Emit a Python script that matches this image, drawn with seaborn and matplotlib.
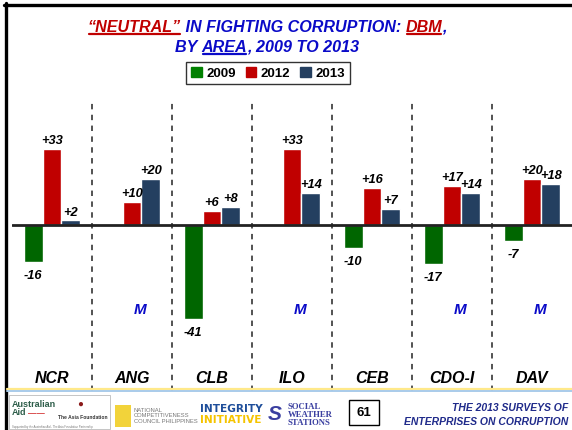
import matplotlib
matplotlib.use("Agg")
import matplotlib.pyplot as plt
from matplotlib.lines import Line2D
from matplotlib.patches import Rectangle
import numpy as np
import pandas as pd
import seaborn as sns

# data
areas = ["NCR", "ANG", "CLB", "ILO", "CEB", "CDO-I", "DAV"]
years = ["2009", "2012", "2013"]
v2009 = [-16, np.nan, -41, np.nan, -10, -17, -7]
v2012 = [33, 10, 6, 33, 16, 17, 20]
v2013 = [2, 20, 8, 14, 7, 14, 18]
m_areas = ["ANG", "ILO", "CDO-I", "DAV"]

colors = {"2009": "#006600", "2012": "#C00000", "2013": "#243F60"}
legend_colors = {"2009": "#008000", "2012": "#C00000", "2013": "#243F60"}
BLUE = "#0A0AC8"
RED = "#C00000"

df = pd.DataFrame({
    "area": areas * 3,
    "year": [y for y in years for _ in areas],
    "value": v2009 + v2012 + v2013,
})

sns.set_style("white")
plt.rcParams["font.family"] = ["Liberation Sans", "DejaVu Sans"]
plt.rcParams["text.color"] = "black"

W, H = 572, 431
fig = plt.figure(figsize=(W / 100, H / 100), dpi=100)
ax = fig.add_axes([12 / W, 1 - 392 / H, 1 - 12 / W, (392 - 95) / H])

sns.barplot(data=df, x="area", y="value", hue="year", order=areas,
            hue_order=years, palette=colors, width=0.7, saturation=1,
            legend=False, ax=ax, errorbar=None)

ax.set_ylim(-72.2, 57)
ax.set_xlim(-0.5, len(areas) - 0.5)
ax.axhline(0, color="#222222", lw=2, zorder=3)
for k in range(len(areas) - 1):
    ax.axvline(k + 0.5, ymin=0, ymax=0.97, color="#444444", lw=1.3,
               ls=(0, (3, 3)), zorder=1)

# value labels (taken from the drawn bars)
for cont in ax.containers:
    for bar in cont:
        v = bar.get_height()
        if np.isnan(v):
            continue
        x = bar.get_x() + bar.get_width() / 2
        if v >= 0:
            ax.annotate(f"+{int(round(v))}", (x, v), xytext=(0, 2),
                        textcoords="offset points", ha="center", va="bottom",
                        fontsize=9.3, fontweight="bold", fontstyle="italic",
                        color="black")
        else:
            ax.annotate(f"{int(round(v))}", (x, v), xytext=(0, -5),
                        textcoords="offset points", ha="center", va="top",
                        fontsize=9.3, fontweight="bold", fontstyle="italic",
                        color="black")

for a in m_areas:
    ax.text(areas.index(a) + 0.1, -36.5, "M", color=BLUE, fontsize=11,
            fontweight="bold", fontstyle="italic", ha="center", va="center")

ax.set_xlabel("")
ax.set_ylabel("")
ax.set_yticks([])
ax.set_xticks(range(len(areas)))
ax.set_xticklabels(areas)
for lab in ax.get_xticklabels():
    lab.set_fontsize(11.5)
    lab.set_fontweight("bold")
    lab.set_fontstyle("italic")
    lab.set_color("black")
ax.tick_params(axis="x", length=0, pad=-15)
for s in ax.spines.values():
    s.set_visible(False)
ax.patch.set_alpha(0)

# legend
handles = [Rectangle((0, 0), 1, 1, color=legend_colors[y]) for y in years]
leg = fig.legend(handles, years, loc="center", bbox_to_anchor=(268 / W, 1 - 74 / H),
                 ncol=3, frameon=True, fancybox=False, edgecolor="black",
                 handlelength=0.8, handleheight=0.8, handletextpad=0.35,
                 columnspacing=0.75, borderpad=0.35, borderaxespad=0,
                 prop={"weight": "bold", "size": 9.5})
leg.get_frame().set_linewidth(1.0)
for t in leg.get_texts():
    t.set_color("black")

# title with coloured / underlined parts
fig.canvas.draw()
renderer = fig.canvas.get_renderer()


def title_line(parts, yc):
    texts = []
    for s, c, u in parts:
        t = fig.text(0, 1 - yc / H, s, color=c, fontsize=11.6, fontweight="bold",
                     fontstyle="italic", va="center", ha="left")
        texts.append((t, u))
    widths = [t.get_window_extent(renderer).width for t, _ in texts]
    x = 267 - sum(widths) / 2
    for (t, u), w in zip(texts, widths):
        t.set_x(x / W)
        if u:
            fig.add_artist(Line2D([(x + 2) / W, (x + w - 1) / W],
                                  [1 - (yc + 8) / H] * 2, color=t.get_color(),
                                  lw=1.6))
        x += w


title_line([("\u201cNEUTRAL\u201d", RED, True),
            (" IN FIGHTING CORRUPTION: ", BLUE, False),
            ("DBM", RED, True), (",", BLUE, False)], 27)
title_line([("BY ", BLUE, False), ("AREA", BLUE, True),
            (", 2009 TO 2013", BLUE, False)], 47)

# slide frame
fig.add_artist(Line2D([5.5 / W] * 2, [0, 1 - 4 / H], color="black", lw=2.4))
fig.add_artist(Line2D([4 / W, 1], [1 - 5.5 / H] * 2, color="black", lw=2.4))
fig.add_artist(Line2D([7 / W, 1], [1 - 390 / H] * 2, color="#FFE98A", lw=1.6))
fig.add_artist(Line2D([7 / W, 1], [1 - 392 / H] * 2, color="#A9CBEA", lw=1.4))

# footer logos (approximate)
fig.add_artist(Rectangle((9 / W, 1 - 430 / H), 101 / W, 34 / H,
                         transform=fig.transFigure, fill=False,
                         edgecolor="#BBBBBB", lw=0.6))
fig.text(12 / W, 1 - 405 / H, "Australian", color="#2E5E4A", fontsize=6.5,
         fontweight="bold", va="center")
fig.text(12 / W, 1 - 413 / H, "Aid", color="#2E5E4A", fontsize=6.5,
         fontweight="bold", va="center")
fig.text(28 / W, 1 - 414 / H, "\u2014\u2014", color="#D02020", fontsize=6,
         fontweight="bold", va="center")
fig.text(80 / W, 1 - 404 / H, "\u25cf", color="#8B1A1A", fontsize=7,
         ha="center", va="center")
fig.text(58 / W, 1 - 418 / H, "The Asia Foundation", color="#333333",
         fontsize=3.6, fontweight="bold", va="center")
fig.text(12 / W, 1 - 427 / H, "Supported by the Australian Aid - The Asia Foundation Partnership",
         color="#777777", fontsize=2, va="center")
fig.add_artist(Rectangle((115 / W, 1 - 428 / H), 16 / W, 22 / H,
                         transform=fig.transFigure, color="#F2D33A", lw=0))
fig.text(134 / W, 1 - 416 / H, "NATIONAL\nCOMPETITIVENESS\nCOUNCIL PHILIPPINES",
         color="#777777", fontsize=4.2, va="center", linespacing=1.1)
fig.text(200 / W, 1 - 409 / H, "INTEGRITY", color="#1E4E9A", fontsize=7.6,
         fontweight="bold", va="center", family="DejaVu Sans")
fig.text(200 / W, 1 - 420 / H, "INITIATIVE", color="#F5C400", fontsize=7.6,
         fontweight="bold", va="center", family="DejaVu Sans")
fig.text(275 / W, 1 - 415 / H, "S", color="#3A3FA0", fontsize=15,
         fontweight="bold", fontstyle="italic", ha="center", va="center")
fig.text(288 / W, 1 - 415 / H, "SOCIAL\nWEATHER\nSTATIONS", color="#3A3FA0",
         fontsize=6.3, fontweight="bold", va="center", family="Liberation Serif",
         linespacing=0.95)
fig.add_artist(Rectangle((349 / W, 1 - 426 / H), 30 / W, 25 / H,
                         transform=fig.transFigure, fill=False,
                         edgecolor="black", lw=1.0))
fig.text(364 / W, 1 - 413.5 / H, "61", fontsize=9.5, fontweight="bold",
         ha="center", va="center")
fig.text(568 / W, 1 - 408 / H, "THE 2013 SURVEYS OF", color="#1F2A8A",
         fontsize=7.5, fontweight="bold", fontstyle="italic", ha="right",
         va="center")
fig.text(568 / W, 1 - 422 / H, "ENTERPRISES ON CORRUPTION", color="#1F2A8A",
         fontsize=7.5, fontweight="bold", fontstyle="italic", ha="right",
         va="center")

fig.savefig("out.png", dpi=100)
